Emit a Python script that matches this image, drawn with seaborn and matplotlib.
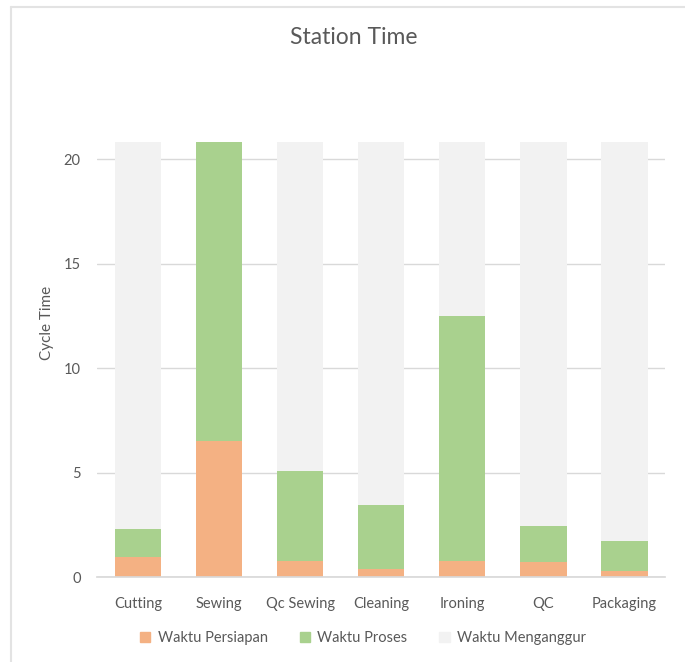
import matplotlib
matplotlib.use("Agg")
import matplotlib.pyplot as plt
import seaborn as sns
import pandas as pd
from matplotlib.patches import Patch
from matplotlib.lines import Line2D

categories = ["Cutting", "Sewing", "Qc Sewing", "Cleaning", "Ironing", "QC", "Packaging"]
persiapan = [0.95, 6.5, 0.77, 0.38, 0.77, 0.75, 0.3]
proses = [1.35, 14.3, 4.3, 3.07, 11.73, 1.7, 1.42]
cycle_time = 20.8
menganggur = [round(cycle_time - a - b, 2) for a, b in zip(persiapan, proses)]

sns.set_theme(style="white")
plt.rcParams['font.family'] = ['Lato', 'DejaVu Sans']

df = pd.DataFrame({"Station": categories, "Persiapan": persiapan,
                   "Proses": proses, "Menganggur": menganggur})
df["PP"] = df["Persiapan"] + df["Proses"]
df["Total"] = df["PP"] + df["Menganggur"]

c_orange = "#F4B183"
c_green = "#A9D18E"
c_gray = "#F2F2F2"
txt = "#595959"

fig = plt.figure(figsize=(6.85, 6.62), dpi=100)
ax = fig.add_axes([0.142, 0.128, 0.829, 0.657])

ax.yaxis.grid(True, color="#D9D9D9", linewidth=1)
ax.set_axisbelow(True)

kw = dict(width=0.57, ax=ax, saturation=1, linewidth=0, edgecolor="none")
sns.barplot(data=df, x="Station", y="Total", color=c_gray, **kw)
sns.barplot(data=df, x="Station", y="PP", color=c_green, **kw)
sns.barplot(data=df, x="Station", y="Persiapan", color=c_orange, **kw)

ax.set_ylim(0, 20.8)
ax.set_yticks([0, 5, 10, 15, 20])
ax.set_xlim(-0.5, len(categories) - 0.5)
for s in ["top", "right", "left"]:
    ax.spines[s].set_visible(False)
ax.spines["bottom"].set_color("#D9D9D9")
ax.tick_params(axis="both", length=0, colors=txt, labelsize=10.5)
ax.tick_params(axis="y", pad=12)
ax.tick_params(axis="x", pad=14)
ax.set_xlabel("")
ax.set_ylabel("Cycle Time", color=txt, fontsize=11)
ax.yaxis.set_label_coords(-0.076, 0.584)

fig.text(0.516, 0.943, "Station Time", ha="center", va="center", fontsize=16.5, color=txt)

handles = [Patch(color=c_orange, label="Waktu Persiapan"),
           Patch(color=c_green, label="Waktu Proses"),
           Patch(color=c_gray, label="Waktu Menganggur")]
fig.legend(handles=handles, loc="center", bbox_to_anchor=(0.53, 0.036), ncol=3,
           frameon=False, fontsize=10.5, labelcolor=txt, handlelength=0.7,
           handleheight=0.7, columnspacing=2.2, handletextpad=0.5)

x0 = 11 / 685
y0 = 1 - 7 / 662
fig.add_artist(Line2D([x0, x0], [0, y0], transform=fig.transFigure, color="#E3E3E3", linewidth=1.5))
fig.add_artist(Line2D([x0, 1], [y0, y0], transform=fig.transFigure, color="#E3E3E3", linewidth=1.5))

fig.savefig("out.png", dpi=100, facecolor="white")
